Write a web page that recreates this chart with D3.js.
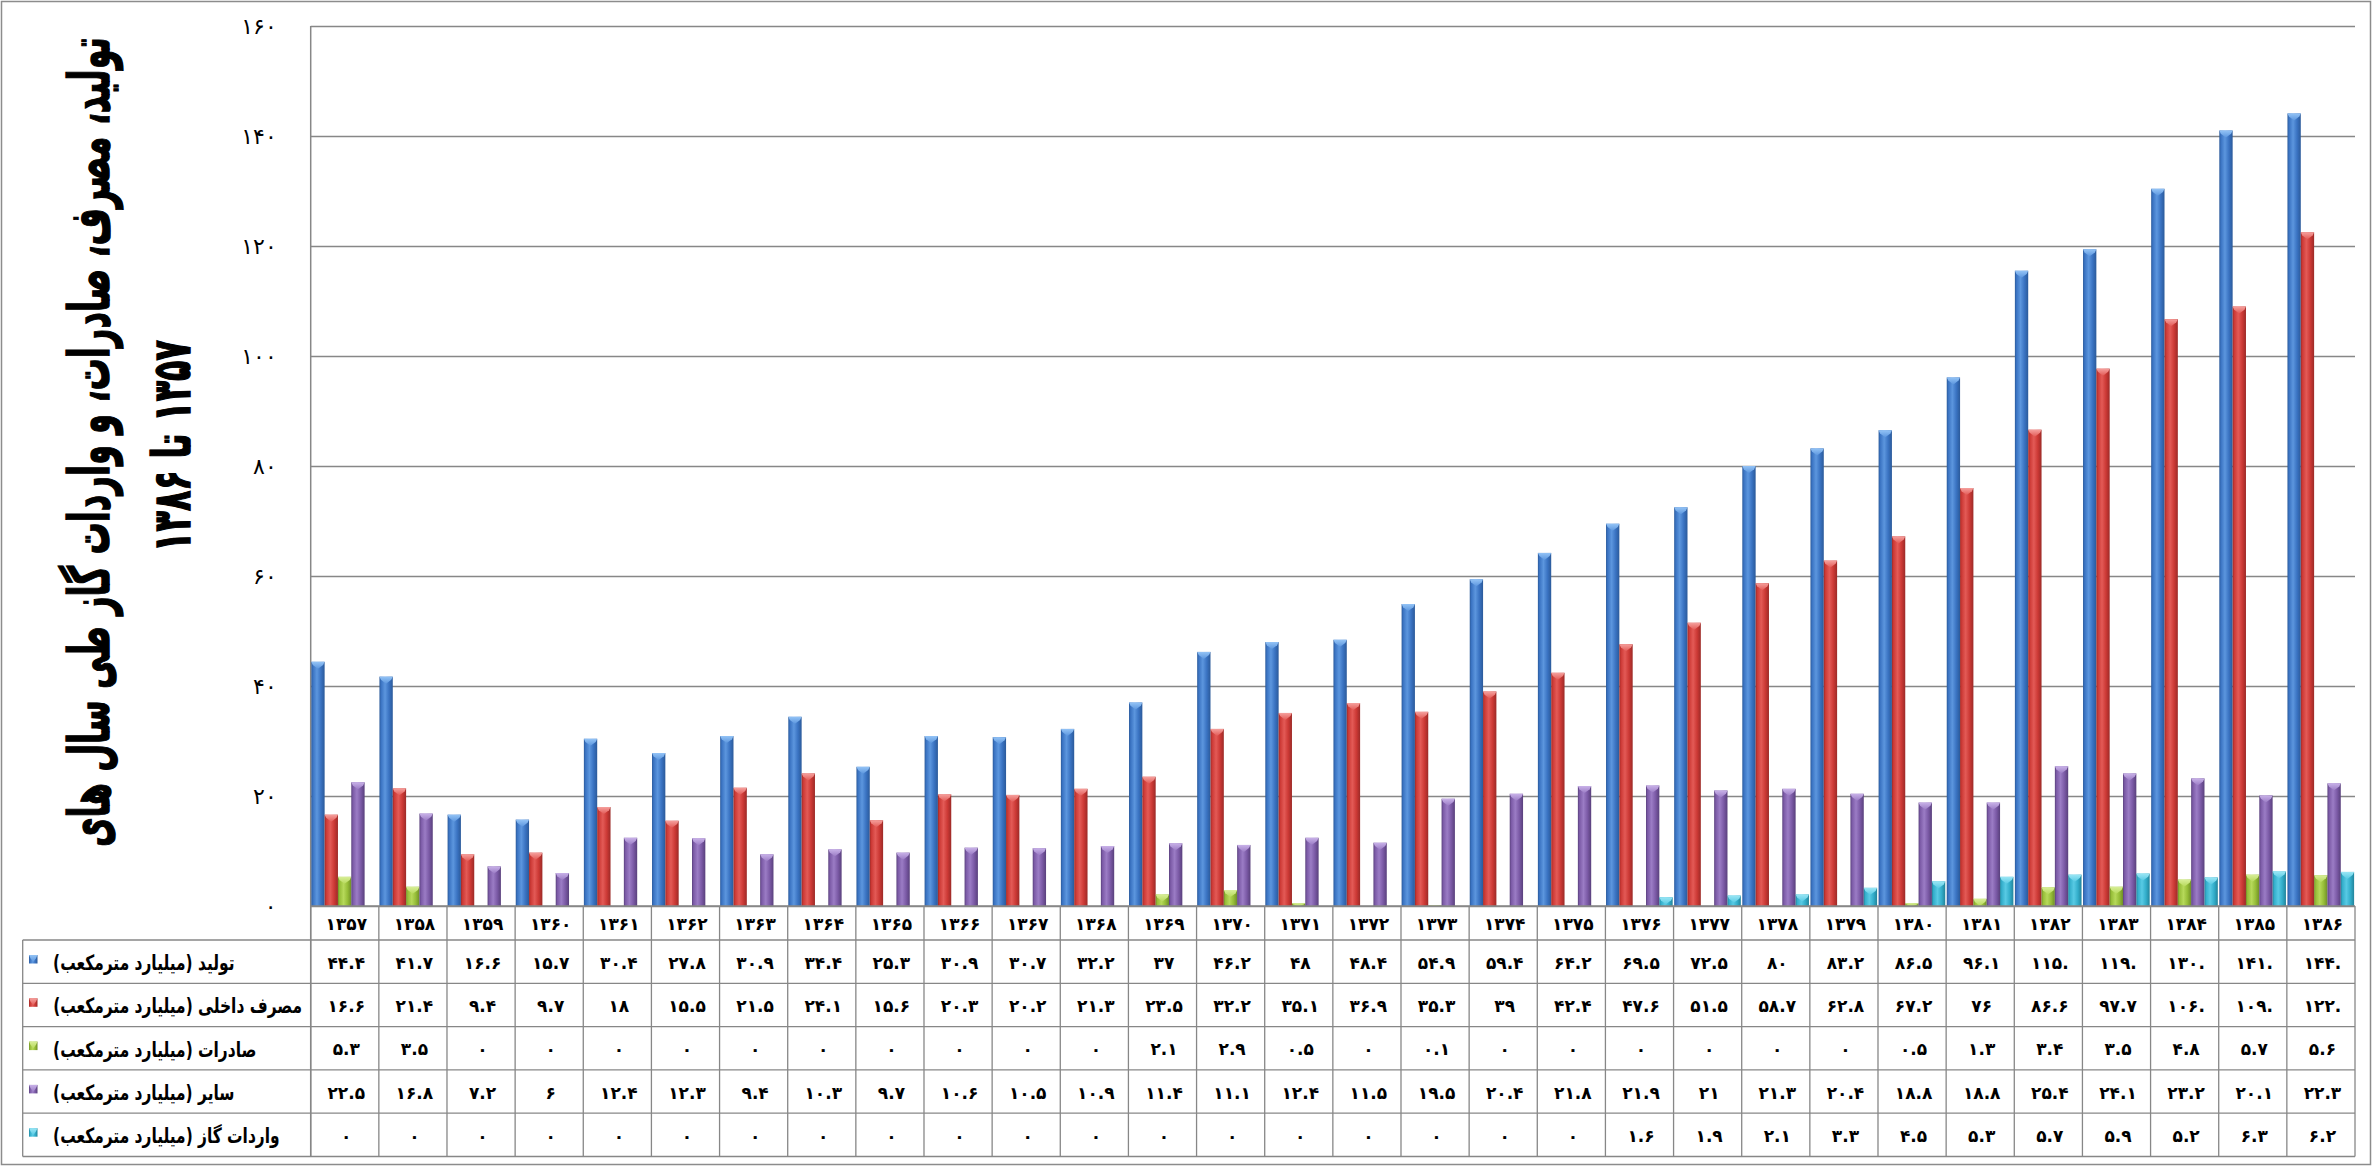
<!DOCTYPE html>
<html><head><meta charset="utf-8">
<script src="https://cdn.jsdelivr.net/npm/d3@7/dist/d3.min.js"></script>
<style>body{margin:0;background:#fff}svg{display:block}</style>
</head><body>
<svg id="chart" width="2372" height="1167"></svg>
<script>
// ---------------- DATA ----------------
const years = [1357,1358,1359,1360,1361,1362,1363,1364,1365,1366,1367,1368,1369,1370,1371,1372,1373,1374,1375,1376,1377,1378,1379,1380,1381,1382,1383,1384,1385,1386];
const seriesNames = [
  "تولید (میلیارد مترمکعب)",
  "مصرف داخلی (میلیارد مترمکعب)",
  "صادرات (میلیارد مترمکعب)",
  "سایر (میلیارد مترمکعب)",
  "واردات گاز (میلیارد مترمکعب)"
];
const production  = [44.4,41.7,16.6,15.7,30.4,27.8,30.9,34.4,25.3,30.9,30.7,32.2,37,46.2,48,48.4,54.9,59.4,64.2,69.5,72.5,80,83.2,86.5,96.1,115.5,119.4,130.4,141.0,144.1];
const consumption = [16.6,21.4,9.4,9.7,18,15.5,21.5,24.1,15.6,20.3,20.2,21.3,23.5,32.2,35.1,36.9,35.3,39,42.4,47.6,51.5,58.7,62.8,67.2,76,86.6,97.7,106.7,109.0,122.5];
const exportsGas  = [5.3,3.5,0,0,0,0,0,0,0,0,0,0,2.1,2.9,0.5,0,0.1,0,0,0,0,0,0,0.5,1.3,3.4,3.5,4.8,5.7,5.6];
const other       = [22.5,16.8,7.2,6,12.4,12.3,9.4,10.3,9.7,10.6,10.5,10.9,11.4,11.1,12.4,11.5,19.5,20.4,21.8,21.9,21,21.3,20.4,18.8,18.8,25.4,24.1,23.2,20.1,22.3];
const importsGas  = [0,0,0,0,0,0,0,0,0,0,0,0,0,0,0,0,0,0,0,1.6,1.9,2.1,3.3,4.5,5.3,5.7,5.9,5.2,6.3,6.2];
const yTicks = [0,20,40,60,80,100,120,140,160];
const titleLine1 = "تولید، مصرف، صادرات، و واردات گاز طی سال های";
const titleLine2 = "۱۳۵۷ تا ۱۳۸۶";

const seriesValues = [production, consumption, exportsGas, other, importsGas];

// ---------------- STYLE ----------------
const palette = [
  {dark:"#2b5a9a", base:"#3a73c2", light:"#5c96de", cap:"#93c3f6"},
  {dark:"#9c2a27", base:"#cc3935", light:"#e35a56", cap:"#f5a09d"},
  {dark:"#6f8e27", base:"#96bd38", light:"#b6d95a", cap:"#d8ee98"},
  {dark:"#59407c", base:"#7b5aa6", light:"#9b7cc5", cap:"#c8b1e8"},
  {dark:"#22849b", base:"#33aecb", light:"#58cae4", cap:"#9ae6f5"}
];
const fa = s => String(s).replace(/\d/g, d => "۰۱۲۳۴۵۶۷۸۹"[d]);
const fmtCell = v => v >= 100 ? fa(Math.floor(v) + ".") : fa(v);

const W = 2372, H = 1167;
const plotL = 310.7, plotR = 2355, plotT = 26, plotB = 906;
const tableTop = 940, rowH = 43.3, legendL = 22.7;
const gridColor = "#878787";

const svg = d3.select("#chart");
svg.append("rect").attr("width", W).attr("height", H).attr("fill", "#fff");

// gradients
const defs = svg.append("defs");
palette.forEach((p, i) => {
  const g = defs.append("linearGradient").attr("id", "g" + i)
    .attr("x1", 0).attr("x2", 1).attr("y1", 0).attr("y2", 0);
  [[0, p.dark], [0.12, p.base], [0.42, p.light], [0.72, p.base], [1, p.dark]]
    .forEach(([o, c]) => g.append("stop").attr("offset", o).attr("stop-color", c));
  const c = defs.append("linearGradient").attr("id", "c" + i)
    .attr("x1", 0).attr("x2", 0).attr("y1", 0).attr("y2", 1);
  c.append("stop").attr("offset", 0).attr("stop-color", p.cap);
  c.append("stop").attr("offset", 1).attr("stop-color", p.light);
});

// scales
const x = d3.scaleBand().domain(years).range([plotL, plotR]).padding(0);
const xs = d3.scaleBand().domain(d3.range(seriesValues.length)).range([0.6, x.bandwidth() - 0.9]).padding(0);
const y = d3.scaleLinear().domain([0, 160]).range([plotB, plotT]);

// grid + y axis
const yAxis = d3.axisLeft(y).tickValues(yTicks).tickSize(-(plotR - plotL)).tickPadding(34).tickFormat(d => fa(d));
const ga = svg.append("g").attr("transform", `translate(${plotL},0)`).call(yAxis);
ga.select(".domain").remove();
ga.selectAll(".tick line").attr("stroke", gridColor).attr("stroke-width", 1.5);
ga.selectAll(".tick text").attr("fill", "#000").attr("font-family", "DejaVu Sans")
  .attr("font-size", 22).attr("letter-spacing", 7).attr("direction", "ltr");
svg.append("line").attr("x1", plotL).attr("x2", plotL).attr("y1", plotT).attr("y2", tableTop + rowH * 5)
  .attr("stroke", gridColor).attr("stroke-width", 1.5);

// bars
function barPath(g, bx, by, bw, bh, i) {
  g.append("rect").attr("x", bx).attr("y", by).attr("width", bw).attr("height", bh)
    .attr("fill", `url(#g${i})`);
  const ch = Math.min(7, bh);
  g.append("path")
    .attr("d", `M${bx},${by}L${bx + bw},${by}L${bx + bw - 1.5},${by + ch * 0.45}L${bx + bw / 2},${by + ch}L${bx + 1.5},${by + ch * 0.45}Z`)
    .attr("fill", `url(#c${i})`);
}
const gb = svg.append("g");
seriesValues.forEach((vals, i) => {
  vals.forEach((v, j) => {
    if (v <= 0) return;
    const bx = x(years[j]) + xs(i), bw = xs.bandwidth();
    const by = y(v), bh = plotB - by;
    barPath(gb, bx, by, bw, bh, i);
  });
});
svg.append("line").attr("x1", plotL).attr("x2", plotR).attr("y1", plotB).attr("y2", plotB)
  .attr("stroke", gridColor).attr("stroke-width", 1.5);

// ---------------- DATA TABLE ----------------
const gt = svg.append("g");
const tableBottom = tableTop + rowH * seriesValues.length;
years.forEach(yr => {
  gt.append("line").attr("x1", x(yr)).attr("x2", x(yr)).attr("y1", plotB).attr("y2", tableBottom)
    .attr("stroke", gridColor).attr("stroke-width", 1.3);
});
gt.append("line").attr("x1", plotR).attr("x2", plotR).attr("y1", plotB).attr("y2", tableBottom)
  .attr("stroke", gridColor).attr("stroke-width", 1.3);
gt.append("line").attr("x1", legendL).attr("x2", legendL).attr("y1", tableTop).attr("y2", tableBottom)
  .attr("stroke", gridColor).attr("stroke-width", 1.3);
d3.range(seriesValues.length + 1).forEach(k => {
  gt.append("line").attr("x1", legendL).attr("x2", plotR)
    .attr("y1", tableTop + k * rowH).attr("y2", tableTop + k * rowH)
    .attr("stroke", gridColor).attr("stroke-width", 1.3);
});
const cellFont = {family: "DejaVu Sans", size: 17, ls: 3};
gt.selectAll("text.yr").data(years).join("text").attr("class", "yr")
  .attr("x", d => x(d) + x.bandwidth() / 2 + cellFont.ls / 2).attr("y", (plotB + tableTop) / 2 + 1)
  .attr("text-anchor", "middle").attr("dominant-baseline", "central")
  .attr("font-family", cellFont.family).attr("font-weight", "bold").attr("font-size", cellFont.size)
  .attr("letter-spacing", cellFont.ls).attr("direction", "ltr")
  .text(d => fa(d));

seriesValues.forEach((vals, i) => {
  const cy = tableTop + rowH * i + rowH / 2 + 1;
  gt.selectAll(`text.v${i}`).data(vals).join("text").attr("class", `v${i}`)
    .attr("x", (d, j) => x(years[j]) + x.bandwidth() / 2 + cellFont.ls / 2).attr("y", cy)
    .attr("text-anchor", "middle").attr("dominant-baseline", "central")
    .attr("font-family", cellFont.family).attr("font-weight", "bold").attr("font-size", cellFont.size)
    .attr("letter-spacing", cellFont.ls).attr("direction", "ltr")
    .text(d => fmtCell(d));
  const mx = 29, my = tableTop + rowH * i + 15;
  barPath(gt, mx, my, 8.5, 8.5, i);
});
const labels = seriesNames.map((name, i) => {
  const cy = tableTop + rowH * i + rowH / 2 + 1;
  const g = gt.append("g");
  const t = g.append("text").attr("x", 0).attr("y", 0)
    .attr("direction", "rtl").attr("dominant-baseline", "central")
    .attr("font-family", "DejaVu Sans").attr("font-weight", "bold").attr("font-size", 21)
    .text(name);
  return {g, t, cy, bb: t.node().getBBox()};
});
const k = 249 / labels[1].bb.width;
labels.forEach(l => {
  l.g.attr("transform", `translate(53,${l.cy}) scale(${k},1) translate(${-l.bb.x},0)`);
});

// ---------------- TITLE ----------------
function rotatedTitle(str, cx, cy, size, targetLen) {
  const t = svg.append("text").attr("direction", "rtl").attr("text-anchor", "middle")
    .attr("dominant-baseline", "central").attr("font-family", "DejaVu Sans")
    .attr("font-weight", "bold").attr("font-size", size)
    .attr("stroke", "#000").attr("stroke-width", 1.4).attr("paint-order", "stroke").text(str);
  const len = t.node().getComputedTextLength();
  t.attr("transform", `translate(${cx},${cy}) rotate(-90) scale(${targetLen / len},1)`);
}
rotatedTitle(titleLine1, 90, 442, 56, 810);
rotatedTitle(titleLine2, 172, 446, 52, 212);

// outer border
svg.append("rect").attr("x", 1.5).attr("y", 1.5).attr("width", W - 3).attr("height", H - 4)
  .attr("fill", "none").attr("stroke", "#8c8c8c").attr("stroke-width", 1.5);
</script>
</body></html>
